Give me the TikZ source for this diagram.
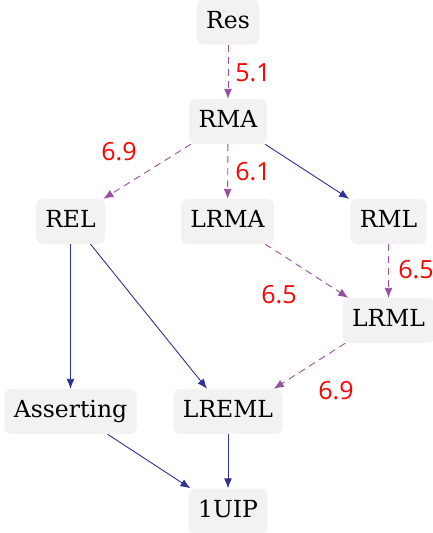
\documentclass[tikz,border=0pt]{standalone}
\usepackage{fontspec}
\setmainfont{DejaVu Serif}
\newfontfamily\labfont{Open Sans}
\usetikzlibrary{arrows.meta}
\definecolor{boxgray}{HTML}{F2F2F2}
\definecolor{purp}{HTML}{984EA3}
\definecolor{dblue}{HTML}{2E3192}
\definecolor{labred}{HTML}{FF0000}
\begin{document}
\begin{tikzpicture}[x=1pt,y=-1pt,
  box/.style={fill=boxgray,rounded corners=7pt,minimum height=45pt,inner xsep=9.5pt,inner ysep=0pt,
    font=\fontsize{23.5}{27}\selectfont,text height=18pt,text depth=6pt},
  dep/.style={draw=purp,dashed,dash pattern=on 7pt off 5pt,line width=0.9pt,-{Latex[length=10pt,width=8pt]},color=purp},
  imp/.style={draw=dblue,line width=0.9pt,-{Latex[length=10pt,width=8pt]},color=dblue},
  lab/.style={text=labred,font=\labfont\fontsize{25}{29}\selectfont,inner sep=0pt}]
\useasboundingbox (0,0) rectangle (433,533);
\node[box] (res) at (228,22) {Res};
\node[box] (rma) at (228,121.5) {RMA};
\node[box] (rel) at (70.5,221.5) {REL};
\node[box] (lrma) at (227.5,221.5) {LRMA};
\node[box] (rml) at (388.5,221.5) {RML};
\node[box] (lrml) at (388.5,320.5) {LRML};
\node[box] (ass) at (70.5,411.5) {Asserting};
\node[box] (lreml) at (228,411.5) {LREML};
\node[box] (uip) at (228,511) {1UIP};
\draw[dep] (res) -- (rma);
\draw[dep] ([xshift=2pt]rma.south west) -- ([xshift=-2pt]rel.north east);
\draw[dep] (rma) -- (lrma);
\draw[imp] ([xshift=-2pt]rma.south east) -- ([xshift=-1pt]rml.north west);
\draw[imp] (rel.south) -- (ass.north);
\draw[imp] ([xshift=20pt]rel.south) -- ([xshift=-21pt]lreml.north);
\draw[dep] ([xshift=-9pt]lrma.south east) -- ([xshift=6pt]lrml.north west);
\draw[dep] (rml.south) -- (lrml.north);
\draw[dep] ([xshift=3pt]lrml.south west) -- ([xshift=-9pt]lreml.north east);
\draw[imp] ([xshift=37pt]ass.south) -- ([xshift=2pt]uip.north west);
\draw[imp] (lreml.south) -- (uip.north);
\node[lab] (l1) at (253,73) {5.1};
\node[lab] (l2) at (119,152) {6.9};
\node[lab] (l3) at (253,172) {6.1};
\node[lab] (l4) at (416,270) {6.5};
\node[lab] (l5) at (279,295) {6.5};
\node[lab] (l6) at (336,391) {6.9};
\end{tikzpicture}
\end{document}
